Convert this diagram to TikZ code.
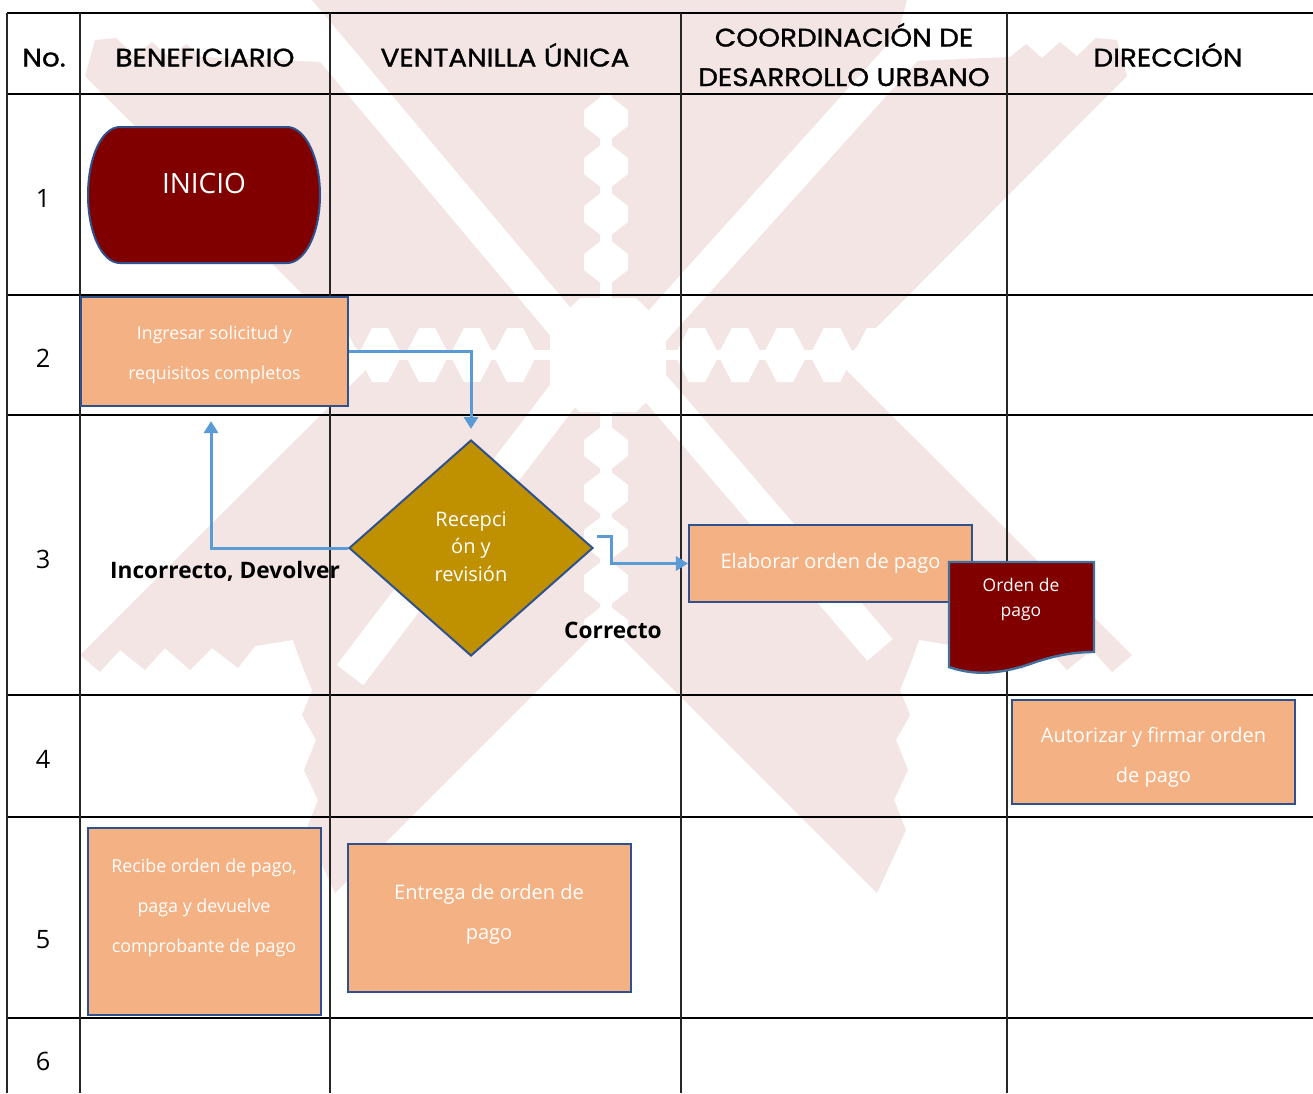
\documentclass[tikz,border=0pt]{standalone}
\usepackage{fontspec}
\setmainfont{Open Sans}
\newfontfamily\hdrfont[FakeStretch=1.1,FakeBold=1.2]{Poppins}
\usetikzlibrary{shapes.geometric,arrows.meta}
\definecolor{wm}{HTML}{F2E5E4}
\definecolor{boxfill}{HTML}{F4B183}
\definecolor{edgeblue}{HTML}{2F528F}
\definecolor{darkred}{HTML}{800000}
\definecolor{gold}{HTML}{BF9000}
\definecolor{arrowblue}{HTML}{5B9BD5}
\definecolor{docedge}{HTML}{41719C}
\begin{document}
\begin{tikzpicture}[x=0.75pt,y=-0.75pt,
  hline/.style={line width=1.6pt},
  vline/.style={line width=0.8pt, black!85},
  procbox/.style={draw=edgeblue, fill=boxfill, line width=1.6pt, rectangle, inner sep=0pt},
  boxtext/.style={text=white, align=center, inner sep=0pt},
  hdr/.style={font=\hdrfont\fontsize{19}{30}\selectfont, anchor=base, inner sep=0pt},
  rownum/.style={font=\fontsize{19}{20}\selectfont, anchor=base, inner sep=0pt},
  flow/.style={draw=arrowblue, line width=2.25pt, -{Triangle[width=10.5pt,length=9pt]}},
  lbl/.style={font=\bfseries\fontsize{17}{20}\selectfont, inner sep=0pt, anchor=base},
  wmwhite/.style={white, line width=25pt},
]
\useasboundingbox (0,0) rectangle (1313,1093);
\fill[white] (0,0) rectangle (1313,1093);
% ---------- watermark ----------
\begin{scope}
\clip (0,0) rectangle (1313,1093);
\foreach \s/\o in {1/0,-1/1212}{
  \begin{scope}[shift={(\o,0)}, xscale=\s]
    \fill[wm] (606,0) -- (305,0) -- (322,62) -- (202,57) -- (186,44) -- (170,58) -- (152,42)
      -- (135,56) -- (116,38) -- (95,40) -- (85,76) -- (372,364) -- (80,655)
      -- (100,672) -- (120,650) -- (145,670) -- (165,648) -- (190,670) -- (212,648)
      -- (238,668) -- (255,646) -- (293,640) -- (300,660) -- (312,690) -- (302,715)
      -- (316,740) -- (304,770) -- (318,800) -- (306,830) -- (335,893) -- (606,622) -- cycle;
    \fill[white] (292,350) rectangle (606,360);
    \foreach \x in {515,472,427,380,337}
      \fill[white] (\x-22,355) -- (\x-8,328) -- (\x+8,328) -- (\x+22,355) -- (\x+8,382) -- (\x-8,382) -- cycle;
  \end{scope}
}
\draw[wmwhite] (290,0) -- (580,345);
\draw[wmwhite] (950,0) -- (640,345);
\draw[wmwhite] (350,675) -- (590,360);
\draw[wmwhite] (640,370) -- (880,650);
\fill[white] (580,298) -- (636,298) -- (666,328) -- (666,384) -- (636,412) -- (580,412) -- (550,384) -- (550,328) -- cycle;
\fill[white] (600,95) rectangle (612,700);
\foreach \y in {118,166,214,262,448,493,538,583,628,670}
  \fill[white] (584,\y-8) -- (606,\y-25) -- (628,\y-8) -- (628,\y+8) -- (606,\y+25) -- (584,\y+8) -- cycle;
\fill[white] (606,350) rectangle (920,360);
\foreach \x in {697,740,785,832,875}
  \fill[white] (\x-22,355) -- (\x-8,328) -- (\x+8,328) -- (\x+22,355) -- (\x+8,382) -- (\x-8,382) -- cycle;
\end{scope}
% ---------- table ----------
\foreach \y in {13,94,295,415,695,817,1018}
  \draw[hline] (7,\y) -- (1313,\y);
\foreach \x in {7,80,330,681,1007}
  \draw[vline] (\x,13) -- (\x,1093);
% headers
\node[hdr] (hNo) at (44,66.5) {No.};
\node[hdr] (hBen) at (205,66.5) {BENEFICIARIO};
\node[hdr] (hVen) at (505,66.5) {VENTANILLA ÚNICA};
\node[hdr] (hCoo1) at (844,46.5) {COORDINACIÓN DE};
\node[hdr] (hCoo2) at (844,86) {DESARROLLO URBANO};
\node[hdr] (hDir) at (1168,66.5) {DIRECCIÓN};
% row numbers
\node[rownum] (r1) at (43,207) {1};
\node[rownum] (r2) at (43,367) {2};
\node[rownum] (r3) at (43,568) {3};
\node[rownum] (r4) at (43,768) {4};
\node[rownum] (r5) at (43,948) {5};
\node[rownum] (r6) at (43,1070) {6};
% ---------- shapes ----------
\draw[draw=edgeblue, fill=darkred, line width=1.5pt] (120,127) -- (287,127)
  .. controls (305,127) and (320,157) .. (320,195)
  .. controls (320,233) and (305,263) .. (287,263) -- (120,263)
  .. controls (102,263) and (88,233) .. (88,195)
  .. controls (88,157) and (102,127) .. (120,127) -- cycle;
\node[text=white, font=\fontsize{21}{24}\selectfont, anchor=base, inner sep=0pt] (inicio) at (204,193.5) {INICIO};

\node[procbox, minimum width=200.25pt, minimum height=81.75pt] (ingresar) at (214.5,351.5) {};
\node[boxtext, font=\fontsize{13.3}{30}\selectfont] (ingresarT) at (214.5,355) {Ingresar solicitud y\\requisitos completos};

\node[diamond, draw=edgeblue, fill=gold, line width=1.5pt, minimum width=183pt, minimum height=162pt, inner sep=0pt] (revision) at (471,548) {};
\node[boxtext, font=\fontsize{15}{20.6}\selectfont] (revisionT) at (471,546.5) {Recepci\\ón y\\revisión};

\node[procbox, minimum width=212.25pt, minimum height=57.75pt] (elaborar) at (830.5,563.5) {};
\node[boxtext, font=\fontsize{15}{20}\selectfont] (elaborarT) at (830.5,563) {Elaborar orden de pago};

\draw[draw=docedge, fill=darkred, line width=1.8pt] (949,562) -- (1094,562) -- (1094,652)
  .. controls (1075,652) and (1055,655) .. (1030,664)
  .. controls (1000,674) and (975,676) .. (949,667) -- cycle;
\node[boxtext, font=\fontsize{13.1}{18.75}\selectfont] (ordenT) at (1021,599) {Orden de\\pago};

\node[procbox, minimum width=212.25pt, minimum height=78pt] (autorizar) at (1153.5,752) {};
\node[boxtext, font=\fontsize{15}{30}\selectfont] (autorizarT) at (1153.5,757) {Autorizar y firmar orden\\de pago};

\node[procbox, minimum width=174.75pt, minimum height=140.25pt] (recibe) at (204.5,921.5) {};
\node[boxtext, font=\fontsize{13.4}{30}\selectfont] (recibeT) at (204,908) {Recibe orden de pago,\\paga y devuelve\\comprobante de pago};

\node[procbox, minimum width=212.25pt, minimum height=111pt] (entrega) at (489.5,918) {};
\node[boxtext, font=\fontsize{15}{30}\selectfont] (entregaT) at (489,914) {Entrega de orden de\\pago};
% ---------- connectors ----------
\draw[flow] (ingresar.east) -| ([yshift=7.5pt]revision.north);
\draw[flow] (revision.west) -| ([xshift=-2.6pt,yshift=-10.5pt]ingresar.south);
\draw[flow] ([xshift=2.25pt,yshift=9pt]revision.east) -- ++(10.5pt,0) |- (elaborar.west);
% labels
\node[lbl] (incorrecto) at (225,578) {Incorrecto, Devolver};
\node[lbl] (correcto) at (613,638) {Correcto};
\end{tikzpicture}
\end{document}
